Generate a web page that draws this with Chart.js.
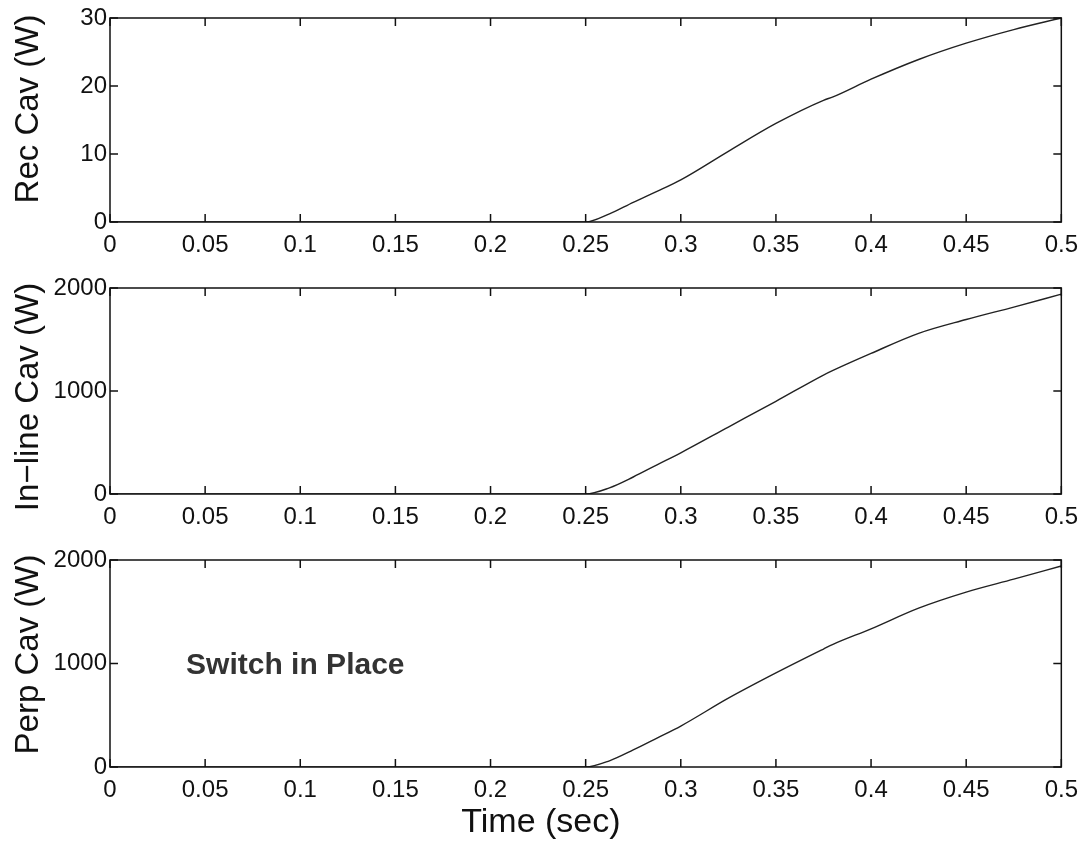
<!DOCTYPE html>
<html>
<head>
<meta charset="utf-8">
<title>Cavity power vs time</title>
<script src="https://cdn.jsdelivr.net/npm/chart.js@4.4.1/dist/chart.umd.min.js"></script>
<style>
  html, body { margin: 0; padding: 0; background: #fff; }
  body { width: 1087px; height: 842px; position: relative; overflow: hidden; }
  canvas { position: absolute; left: 0; }
</style>
</head>
<body>
<canvas id="recChart" width="1087" height="262" style="top:0px"></canvas>
<canvas id="inlineChart" width="1087" height="262" style="top:270px"></canvas>
<canvas id="perpChart" width="1087" height="300" style="top:542px"></canvas>
<script>
// sample times (sec), shared by all three panels
const timeSec = [0, 0.25, 0.2625, 0.275, 0.2875, 0.3, 0.325, 0.35, 0.375, 0.38, 0.4, 0.425, 0.45, 0.475, 0.5];

// power readings (W)
const recCav    = [0, 0, 1.2, 2.9, 4.5, 6.2, 10.4, 14.5, 17.9, 18.4, 21.0, 23.9, 26.3, 28.3, 30];
const inlineCav = [0, 0, 60, 165, 283, 400, 650, 900, 1155, 1200, 1365, 1560, 1694, 1815, 1940];
const perpCav   = [0, 0, 60, 165, 280, 396, 665, 909, 1140, 1185, 1335, 1535, 1690, 1815, 1942];

// tick labels
const timeTicks = [0, 0.05, 0.1, 0.15, 0.2, 0.25, 0.3, 0.35, 0.4, 0.45, 0.5];
const recTicks = [0, 10, 20, 30];
const cavTicks = [0, 1000, 2000];

const FONT = "'Liberation Sans', Arial, Helvetica, sans-serif";
const INK = "#111";

// MATLAB-style box with inward ticks on all four sides, plus axis titles
const boxPlugin = {
  id: "box",
  afterDraw(chart) {
    const { ctx, chartArea: a, scales } = chart;
    const len = 8;
    ctx.save();
    ctx.strokeStyle = INK;
    ctx.lineWidth = 1.5;
    ctx.strokeRect(a.left, a.top, a.right - a.left, a.bottom - a.top);
    ctx.beginPath();
    scales.x.ticks.forEach((t) => {
      const px = scales.x.getPixelForValue(t.value);
      ctx.moveTo(px, a.bottom); ctx.lineTo(px, a.bottom - len);
      ctx.moveTo(px, a.top); ctx.lineTo(px, a.top + len);
    });
    scales.y.ticks.forEach((t) => {
      const py = scales.y.getPixelForValue(t.value);
      ctx.moveTo(a.left, py); ctx.lineTo(a.left + len, py);
      ctx.moveTo(a.right, py); ctx.lineTo(a.right - len, py);
    });
    ctx.stroke();

    const opts = chart.options.plugins.box || {};
    ctx.fillStyle = INK;
    ctx.textAlign = "center";
    ctx.textBaseline = "middle";
    if (opts.yTitle) {
      ctx.save();
      ctx.font = "33px " + FONT;
      ctx.translate(29, (a.top + a.bottom) / 2 + (opts.yShift || 0));
      ctx.rotate(-Math.PI / 2);
      ctx.fillText(opts.yTitle, 0, 0);
      ctx.restore();
    }
    if (opts.xTitle) {
      ctx.font = "34px " + FONT;
      ctx.fillText(opts.xTitle, a.left + 0.453 * (a.right - a.left), chart.height - 19);
    }
    if (opts.note) {
      ctx.fillStyle = "#333";
      ctx.font = "bold 30px " + FONT;
      ctx.textAlign = "left";
      ctx.fillText(opts.note.text, scales.x.getPixelForValue(opts.note.x), scales.y.getPixelForValue(opts.note.y));
    }
    ctx.restore();
  },
};

function makePanel(id, values, yTicks, yMax, yLabel, opts) {
  const xAxisHeight = opts.xAxisHeight;
  return new Chart(document.getElementById(id), {
    type: "line",
    data: {
      datasets: [
        {
          data: timeSec.map((t, i) => ({ x: t, y: values[i] })),
          borderColor: "#222",
          borderWidth: 1.4,
          pointRadius: 0,
          cubicInterpolationMode: "monotone",
          fill: false,
        },
      ],
    },
    options: {
      responsive: false,
      animation: false,
      layout: { padding: { top: 18, right: 24, left: 0, bottom: 0 } },
      plugins: {
        legend: { display: false },
        tooltip: { enabled: false },
        box: { yTitle: yLabel, yShift: opts.yShift, note: opts.note, xTitle: opts.xTitle },
      },
      scales: {
        x: {
          type: "linear",
          min: 0,
          max: 0.5,
          afterBuildTicks: (s) => { s.ticks = timeTicks.map((v) => ({ value: v })); },
          afterFit: (s) => { s.height = xAxisHeight; },
          grid: { display: false, drawTicks: false },
          border: { display: false },
          ticks: {
            padding: 9,
            color: INK,
            font: { family: FONT, size: 24 },
            maxRotation: 0,
            autoSkip: false,
            callback: (v) => String(+v.toFixed(2)),
          },
        },
        y: {
          min: 0,
          max: yMax,
          afterBuildTicks: (s) => { s.ticks = yTicks.map((v) => ({ value: v })); },
          afterFit: (s) => { s.width = 110; },
          grid: { display: false, drawTicks: false },
          border: { display: false },
          ticks: {
            padding: 3,
            color: INK,
            font: { family: FONT, size: 24 },
            callback: (v) => String(v),
          },
        },
      },
    },
    plugins: [boxPlugin],
  });
}

makePanel("recChart", recCav, recTicks, 30, "Rec Cav (W)", { xAxisHeight: 40, yShift: -11 });
makePanel("inlineChart", inlineCav, cavTicks, 2000, "In\u2212line Cav (W)", { xAxisHeight: 38, yShift: 6 });
makePanel("perpChart", perpCav, cavTicks, 2000, "Perp Cav (W)", {
  xAxisHeight: 75,
  yShift: -9,
  xTitle: "Time (sec)",
  note: { text: "Switch in Place", x: 0.04, y: 980 },
});
</script>
</body>
</html>
